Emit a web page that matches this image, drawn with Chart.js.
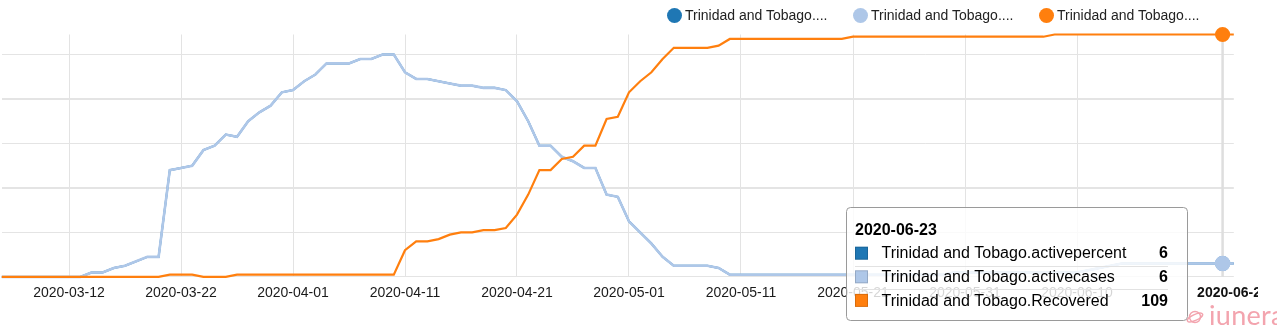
<!DOCTYPE html>
<html>
<head>
<meta charset="utf-8">
<script src="https://cdn.jsdelivr.net/npm/chart.js@4/dist/chart.umd.min.js"></script>
<style>
    body { margin: 0; background: #fff; }
    #wrap { position: relative; width: 1277px; height: 326px; overflow: hidden; }
    #legend { position: absolute; top: 0; left: 0; width: 100%; height: 30px; }
    .lg-item { position: absolute; top: 7px; display: flex; align-items: center; white-space: nowrap;
               font: 14px "Liberation Sans", Arial, sans-serif; color: #222; }
    .lg-dot { width: 15px; height: 15px; border-radius: 50%; margin-right: 3px; }
    #brand { position: absolute; left: 1186px; top: 298px; display: flex; align-items: center;
             font: 27px Lato, "Open Sans", sans-serif; color: #f3a4ae; letter-spacing: 0.3px; }
    #brand svg { margin-right: 5px; margin-top: 4px; }
</style>
</head>
<body>
<div id="wrap">
    <canvas id="covidChart"></canvas>
    <div id="legend"></div>
    <div id="brand">
        <svg width="18" height="18" viewBox="0 0 18 18">
            <circle cx="9" cy="9" r="5.5" fill="none" stroke="#f3a4ae" stroke-width="1.4"/>
            <ellipse cx="9" cy="9.5" rx="8.3" ry="3" transform="rotate(-25 9 9.5)" fill="none" stroke="#f3a4ae" stroke-width="1.4"/>
        </svg>
        <span>iunera</span>
    </div>
</div>

<script>
// --- data ---
const startDate = '2020-03-06';
const dayCount = 111;
const hoverDate = '2020-06-23';
const tickDates = ['2020-03-12', '2020-03-22', '2020-04-01', '2020-04-11', '2020-04-21',
                   '2020-05-01', '2020-05-11', '2020-05-21', '2020-05-31', '2020-06-10'];
const seriesNames = ['Trinidad and Tobago.activepercent', 'Trinidad and Tobago.activecases', 'Trinidad and Tobago.Recovered'];
const seriesColors = ['#1f77b4', '#aec7e8', '#ff7f0e'];

const activeCases = [
    0, 0, 0, 0, 0, 0, 0, 0, 2, 2,
    4, 5, 7, 9, 9, 48, 49, 50, 57, 59,
    64, 63, 70, 74, 77, 83, 84, 88, 91, 96,
    96, 96, 98, 98, 100, 100, 92, 89, 89, 88,
    87, 86, 86, 85, 85, 84, 79, 70, 59, 59,
    54, 52, 49, 49, 37, 36, 25, 20, 15, 9,
    5, 5, 5, 5, 4, 1, 1, 1, 1, 1,
    1, 1, 1, 1, 1, 1, 1, 1, 1, 1,
    1, 1, 1, 1, 1, 2, 2, 2, 2, 2,
    2, 2, 2, 2, 2, 2, 2, 3, 4, 5,
    6, 6, 6, 6, 6, 6, 6, 6, 6, 6, 6
];
const activePercent = [
    0, 0, 0, 0, 0, 0, 0, 0, 2, 2,
    4, 5, 7, 9, 9, 48, 49, 50, 57, 59,
    64, 63, 70, 74, 77, 83, 84, 88, 91, 96,
    96, 96, 98, 98, 100, 100, 92, 89, 89, 88,
    87, 86, 86, 85, 85, 84, 79, 70, 59, 59,
    54, 52, 49, 49, 37, 36, 25, 20, 15, 9,
    5, 5, 5, 5, 4, 1, 1, 1, 1, 1,
    1, 1, 1, 1, 1, 1, 1, 1, 1, 1,
    1, 1, 1, 1, 1, 2, 2, 2, 2, 2,
    2, 2, 2, 2, 2, 2, 2, 3, 4, 5,
    6, 6, 6, 6, 6, 6, 6, 6, 6, 6, 6
];
const recovered = [
    0, 0, 0, 0, 0, 0, 0, 0, 0, 0,
    0, 0, 0, 0, 0, 1, 1, 1, 0, 0,
    0, 1, 1, 1, 1, 1, 1, 1, 1, 1,
    1, 1, 1, 1, 1, 1, 12, 16, 16, 17,
    19, 20, 20, 21, 21, 22, 28, 37, 48, 48,
    53, 54, 59, 59, 71, 72, 83, 88, 92, 98,
    103, 103, 103, 103, 104, 107, 107, 107, 107, 107,
    107, 107, 107, 107, 107, 107, 108, 108, 108, 108,
    108, 108, 108, 108, 108, 108, 108, 108, 108, 108,
    108, 108, 108, 108, 109, 109, 109, 109, 109, 109,
    109, 109, 109, 109, 109, 109, 109, 109, 109, 109, 109
];

// daily labels
const dates = [];
const d0 = new Date(startDate + 'T00:00:00Z');
for (let i = 0; i < dayCount; i++) {
    const d = new Date(d0.getTime() + i * 86400000);
    dates.push(d.toISOString().slice(0, 10));
}
const hoverIndex = dates.indexOf(hoverDate);
const FONT = '"Liberation Sans", Arial, sans-serif';

function hoverRadius(ctx) {
    return ctx.dataIndex === hoverIndex ? 6.5 : 0;
}

// vertical hover line, bold date under it and the value box
const hoverBox = {
    id: 'hoverBox',
    beforeDatasetsDraw(chart) {
        const { ctx, chartArea } = chart;
        const px = chart.scales.x.getPixelForValue(hoverIndex);
        ctx.save();
        ctx.strokeStyle = '#dedede';
        ctx.lineWidth = 2.5;
        ctx.beginPath();
        ctx.moveTo(px, chartArea.top);
        ctx.lineTo(px, chartArea.bottom);
        ctx.stroke();
        ctx.restore();
    },
    afterDraw(chart) {
        const { ctx, chartArea } = chart;
        const px = chart.scales.x.getPixelForValue(hoverIndex);

        ctx.save();
        ctx.beginPath();
        ctx.rect(0, 0, 1258, 326);
        ctx.clip();
        ctx.font = 'bold 14px ' + FONT;
        ctx.fillStyle = '#111';
        ctx.textBaseline = 'alphabetic';
        ctx.fillText(dates[hoverIndex], px - 25.5, chartArea.bottom + 20);
        ctx.restore();

        // tooltip box
        const bx = 846.5, by = 207.5, bw = 341, bh = 113;
        ctx.save();
        ctx.beginPath();
        ctx.roundRect(bx, by, bw, bh, 4);
        ctx.fillStyle = 'rgba(255,255,255,0.82)';
        ctx.fill();
        ctx.strokeStyle = '#9a9a9a';
        ctx.lineWidth = 1;
        ctx.stroke();

        ctx.fillStyle = '#000';
        ctx.font = 'bold 16px ' + FONT;
        ctx.textAlign = 'left';
        ctx.fillText(dates[hoverIndex], 855, 235);

        chart.data.datasets.forEach((ds, k) => {
            const base = 258.3 + k * 23.6;
            ctx.fillStyle = seriesColors[k];
            ctx.fillRect(855, base - 11.6, 13, 13);
            ctx.strokeStyle = 'rgba(0,0,0,0.15)';
            ctx.strokeRect(855.5, base - 11.1, 12, 12);

            ctx.fillStyle = '#000';
            ctx.font = '16px ' + FONT;
            ctx.textAlign = 'left';
            ctx.fillText(ds.label, 881.5, base);
            ctx.font = 'bold 16px ' + FONT;
            ctx.textAlign = 'right';
            ctx.fillText(String(ds.data[hoverIndex]), 1168, base);

            if (k < chart.data.datasets.length - 1) {
                ctx.strokeStyle = '#e2e2e2';
                ctx.beginPath();
                ctx.moveTo(855, Math.round(base + 7.4) + 0.5);
                ctx.lineTo(1168, Math.round(base + 7.4) + 0.5);
                ctx.stroke();
            }
        });
        ctx.restore();
    }
};

const chart = new Chart(document.getElementById('covidChart'), {
    type: 'line',
    data: {
        labels: dates,
        datasets: [
            {
                label: seriesNames[0],
                data: activePercent,
                borderColor: seriesColors[0],
                backgroundColor: seriesColors[0],
                borderWidth: 2,
                order: 3
            },
            {
                label: seriesNames[1],
                data: activeCases,
                borderColor: seriesColors[1],
                backgroundColor: seriesColors[1],
                borderWidth: 2.6,
                order: 2
            },
            {
                label: seriesNames[2],
                data: recovered,
                borderColor: seriesColors[2],
                backgroundColor: seriesColors[2],
                borderWidth: 2.2,
                order: 1
            }
        ]
    },
    options: {
        responsive: true,
        maintainAspectRatio: false,
        animation: false,
        events: [],
        layout: { padding: { top: 34.5, left: 1.8, right: 43.2, bottom: 16.3 } },
        elements: {
            line: { tension: 0, fill: false },
            point: { radius: hoverRadius, borderWidth: 0, hitRadius: 0 }
        },
        datasets: { line: { clip: 10 } },
        plugins: {
            legend: { display: false },
            tooltip: { enabled: false }
        },
        scales: {
            x: {
                type: 'category',
                border: { display: false },
                grid: { color: '#e3e3e3', drawTicks: false },
                ticks: {
                    autoSkip: false,
                    maxRotation: 0,
                    padding: 8,
                    color: '#1a1a1a',
                    font: { family: FONT, size: 14 }
                },
                afterBuildTicks(axis) {
                    axis.ticks = axis.ticks.filter(t => tickDates.includes(dates[t.value]));
                }
            },
            y: {
                min: 0,
                max: 109,
                border: { display: false },
                grid: {
                    drawTicks: false,
                    color: '#e4e4e4',
                    lineWidth: c => (c.tick && (c.tick.value === 40 || c.tick.value === 80)) ? 2 : 1
                },
                ticks: { display: false, stepSize: 20 },
                afterBuildTicks(axis) {
                    axis.ticks = axis.ticks.filter(t => t.value % 20 === 0);
                }
            }
        }
    },
    plugins: [hoverBox]
});

// legend row with shortened names
const legendEl = document.getElementById('legend');
chart.data.datasets.forEach((ds, k) => {
    const item = document.createElement('div');
    item.className = 'lg-item';
    item.style.left = (667 + k * 186) + 'px';
    item.innerHTML = '<span class="lg-dot" style="background:' + seriesColors[k] + '"></span>' +
        '<span>' + ds.label.slice(0, 19) + '....</span>';
    legendEl.appendChild(item);
});
</script>
</body>
</html>
